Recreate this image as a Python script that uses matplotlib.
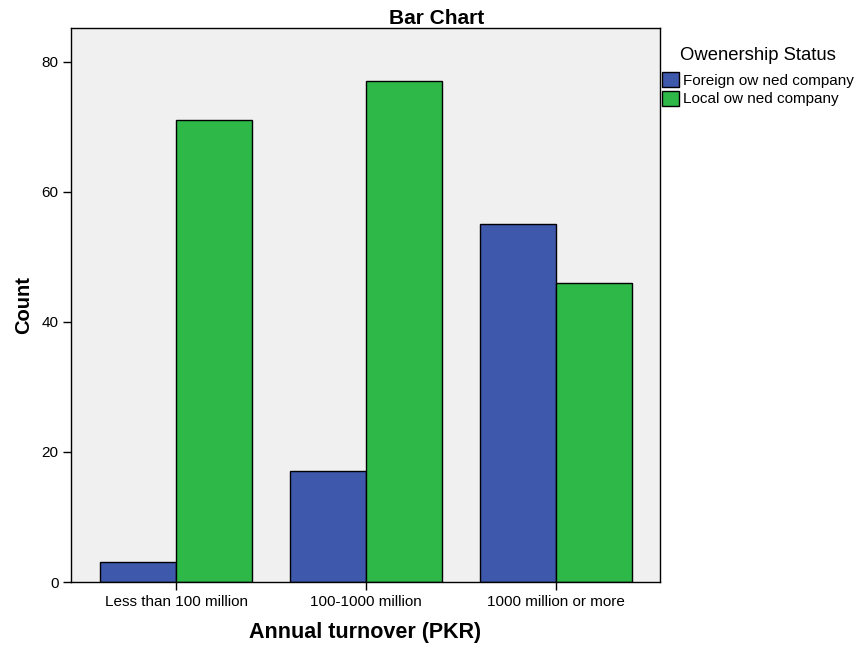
import matplotlib
matplotlib.use("Agg")
import matplotlib.pyplot as plt
import numpy as np

plt.rcParams['font.family'] = ['Liberation Sans', 'DejaVu Sans']

categories = ["Less than 100 million", "100-1000 million", "1000 million or more"]
series_names = ["Foreign ow ned company", "Local ow ned company"]
foreign = [3, 17, 55]
local = [71, 77, 46]
yticks = [0, 20, 40, 60, 80]

W, H = 855, 646
fig = plt.figure(figsize=(W/100, H/100), dpi=100)
ax = fig.add_axes([71/W, 1 - 582/H, (660-71)/W, (582-28)/H])
ax.set_facecolor('#F0F0F0')

x = np.arange(len(categories))
w = 0.4
ax.bar(x - w/2, foreign, w, color='#3E58AC', edgecolor='black', linewidth=1.0, label=series_names[0], zorder=2)
ax.bar(x + w/2, local, w, color='#2EB848', edgecolor='black', linewidth=1.0, label=series_names[1], zorder=2)

ax.set_xlim(-0.553, 2.547)
ax.set_ylim(0, 85.2)
ax.set_xticks(x)
ax.set_xticklabels(categories, fontsize=11)
ax.set_yticks(yticks)
ax.set_yticklabels([str(v) for v in yticks], fontsize=11)
ax.tick_params(axis='both', direction='out', length=6, width=1, colors='black', pad=3)

for s in ax.spines.values():
    s.set_linewidth(1.0)
    s.set_color('black')

fig.text(437/W, 1 - 18/H, "Bar Chart", fontsize=15, fontweight='bold', ha='center', va='center')
ax.set_xlabel("Annual turnover (PKR)", fontsize=15.5, fontweight='bold', labelpad=10)
ax.set_ylabel("Count", fontsize=14.5, fontweight='bold', labelpad=6)

leg = fig.legend(*ax.get_legend_handles_labels(), loc='upper left',
                 bbox_to_anchor=(662/W, 1 - 47/H), frameon=False,
                 title="Owenership Status", fontsize=11, title_fontsize=13.3,
                 handlelength=1.1, handleheight=1.1, handletextpad=0.25,
                 labelspacing=0.2, borderaxespad=0.0, borderpad=0.0)
leg._legend_box.sep = 6
for h in leg.legend_handles:
    h.set_edgecolor('black')

fig.savefig("out.png", dpi=100, facecolor='white')
